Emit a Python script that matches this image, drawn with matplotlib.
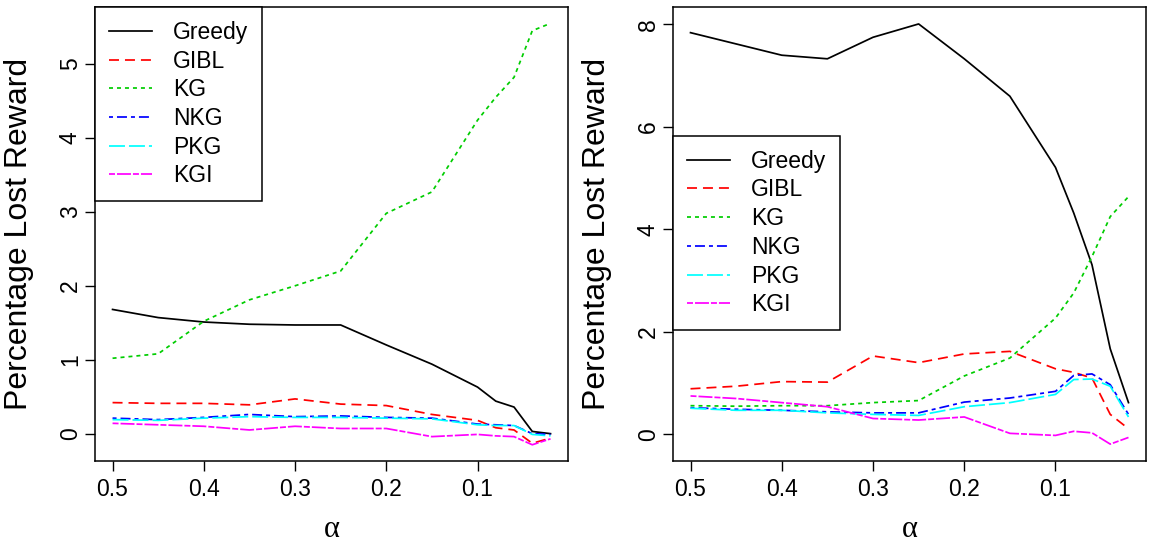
import matplotlib
matplotlib.use("Agg")
import matplotlib.pyplot as plt

plt.rcParams["font.family"] = ["Liberation Sans", "DejaVu Sans"]

ALPHA = [0.5, 0.45, 0.4, 0.35, 0.3, 0.25, 0.2, 0.15, 0.1, 0.08, 0.06, 0.04, 0.02]
METHODS = ["Greedy", "GIBL", "KG", "NKG", "PKG", "KGI"]

# left panel
L_GREEDY = [1.68, 1.57, 1.51, 1.48, 1.47, 1.47, 1.20, 0.94, 0.63, 0.44, 0.36, 0.03, 0.00]
L_GIBL = [0.42, 0.41, 0.41, 0.39, 0.47, 0.40, 0.38, 0.26, 0.18, 0.08, 0.05, -0.13, -0.06]
L_KG = [1.02, 1.08, 1.52, 1.81, 2.00, 2.20, 2.98, 3.27, 4.24, 4.55, 4.82, 5.45, 5.55]
L_NKG = [0.21, 0.19, 0.22, 0.26, 0.23, 0.24, 0.22, 0.21, 0.13, 0.12, 0.11, 0.00, -0.01]
L_PKG = [0.19, 0.18, 0.21, 0.23, 0.22, 0.22, 0.21, 0.20, 0.12, 0.11, 0.11, -0.01, -0.03]
L_KGI = [0.14, 0.12, 0.10, 0.05, 0.10, 0.07, 0.07, -0.04, -0.01, -0.03, -0.04, -0.15, -0.07]

# right panel
R_GREEDY = [7.84, 7.62, 7.40, 7.33, 7.75, 8.01, 7.33, 6.60, 5.21, 4.32, 3.31, 1.67, 0.62]
R_GIBL = [0.89, 0.94, 1.03, 1.02, 1.53, 1.40, 1.57, 1.62, 1.28, 1.21, 1.10, 0.39, 0.11]
R_KG = [0.56, 0.55, 0.56, 0.56, 0.62, 0.66, 1.14, 1.49, 2.27, 2.76, 3.47, 4.25, 4.64]
R_NKG = [0.52, 0.49, 0.47, 0.44, 0.42, 0.42, 0.63, 0.71, 0.84, 1.15, 1.18, 0.97, 0.39]
R_PKG = [0.51, 0.47, 0.47, 0.42, 0.39, 0.37, 0.54, 0.62, 0.78, 1.07, 1.08, 0.94, 0.34]
R_KGI = [0.75, 0.70, 0.62, 0.54, 0.31, 0.28, 0.34, 0.02, -0.02, 0.06, 0.03, -0.19, -0.06]

COLORS = ["#000000", "#FF0000", "#00CD00", "#0000FF", "#00FFFF", "#FF00FF"]
# R lty 1..6, in linewidth units
STYLES = ["-", (0, (5.75, 3.45)), (0, (2.3, 2.3)), (0, (2.3, 2.3, 5.75, 2.3)),
          (0, (9.2, 2.3)), (0, (3.45, 1.15, 8.05, 1.15))]

fig = plt.figure(figsize=(11.52, 5.42), dpi=100)
ax1 = fig.add_axes([0.0825, 0.1494, 0.4106, 0.8376])
ax2 = fig.add_axes([0.5842, 0.1494, 0.4106, 0.8376])

panels = [
    (ax1, [L_GREEDY, L_GIBL, L_KG, L_NKG, L_PKG, L_KGI], (-0.37, 5.77), range(0, 6), (0, 1.0)),
    (ax2, [R_GREEDY, R_GIBL, R_KG, R_NKG, R_PKG, R_KGI], (-0.52, 8.34), range(0, 9, 2), (0, 0.716)),
]
for ax, series, ylim, yticks, anchor in panels:
    for name, ys, c, ls in zip(METHODS, series, COLORS, STYLES):
        ax.plot(ALPHA, ys, color=c, linestyle=ls, lw=1.25, label=name)
    ax.set_xlim(0.5192, 0.0008)
    ax.set_ylim(*ylim)
    ax.set_xticks([0.5, 0.4, 0.3, 0.2, 0.1])
    ax.set_xticklabels(["0.5", "0.4", "0.3", "0.2", "0.1"])
    ax.set_yticks(list(yticks))
    ax.tick_params(direction="out", length=7.5, width=1.0, labelsize=16.5, pad=5)
    ax.tick_params(axis="y", pad=2)
    for lab in ax.get_yticklabels():
        lab.set_rotation(90)
        lab.set_va("center")
    for sp in ax.spines.values():
        sp.set_linewidth(1.1)
    ax.set_xlabel("α", fontsize=22, family=["Liberation Serif", "DejaVu Serif"])
    ax.set_ylabel("Percentage Lost Reward", fontsize=23)
    ax.xaxis.set_label_coords(0.5, -0.118)
    ax.yaxis.set_label_coords(-0.13, 0.5)
    leg = ax.legend(loc="upper left", bbox_to_anchor=anchor, borderaxespad=0,
                    fontsize=16.5, handlelength=1.9, handletextpad=0.9,
                    labelspacing=0.25, borderpad=0.6, fancybox=False,
                    framealpha=1, edgecolor="black")
    leg.get_frame().set_linewidth(1.1)

fig.savefig("out.png", dpi=100)
